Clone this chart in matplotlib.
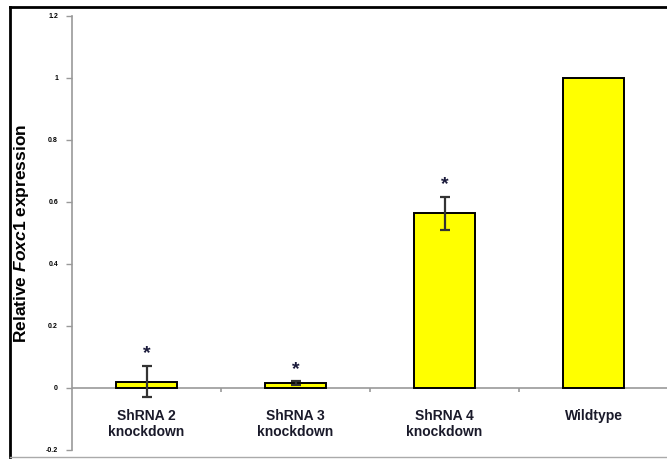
import numpy as np
import matplotlib.pyplot as plt
from matplotlib.lines import Line2D

plt.rcParams['font.family'] = ['Liberation Sans', 'DejaVu Sans']
plt.rcParams['mathtext.fontset'] = 'custom'
plt.rcParams['mathtext.it'] = 'Liberation Sans:italic:bold'
plt.rcParams['mathtext.rm'] = 'Liberation Sans:bold'

categories = ['ShRNA 2\nknockdown', 'ShRNA 3\nknockdown', 'ShRNA 4\nknockdown', 'Wildtype']
expression = [0.02, 0.015, 0.563, 1.0]
errors = [0.05, 0.006, 0.054, 0.0]
significant = [True, True, True, False]
yticks = [-0.2, 0, 0.2, 0.4, 0.6, 0.8, 1, 1.2]
yticklabels = ['-0.2', '0', '0.2', '0.4', '0.6', '0.8', '1', '1.2']

W, H = 667, 459
fig = plt.figure(figsize=(W / 100, H / 100), dpi=100)

# outer frame: black on top and left, light grey along the bottom
fig.add_artist(Line2D([10 / W, 1.0], [1 - 7 / H, 1 - 7 / H], color='black', linewidth=2))
fig.add_artist(Line2D([10 / W, 10 / W], [1 - 7 / H, 1 - 457 / H], color='black', linewidth=2))
fig.add_artist(Line2D([10 / W, 1.0], [1 - 457 / H, 1 - 457 / H], color='#aaaaaa', linewidth=1))

ax = fig.add_axes([72 / W, 9 / H, 596 / W, 434 / H])
ax.patch.set_alpha(0)

x = np.arange(len(categories))
ax.bar(x, expression, width=0.41, color='#ffff00', edgecolor='black', linewidth=1.4, zorder=2)
err_x = [xi for xi, e in zip(x, errors) if e > 0]
err_y = [v for v, e in zip(expression, errors) if e > 0]
err_e = [e for e in errors if e > 0]
ax.errorbar(err_x, err_y, yerr=err_e, fmt='none', ecolor='#333333', elinewidth=1.6,
            capsize=3.5, capthick=1.6, zorder=3)

for xi, v, e, s in zip(x, expression, errors, significant):
    if s:
        ax.text(xi, v + e + 0.04, '*', ha='center', va='center', fontsize=14,
                fontweight='bold', color='#1a1a3a')

ax.set_xlim(-0.5, len(categories) - 0.5)
ax.set_ylim(-0.2, 1.2)

# category axis drawn at zero with small separators
ax.axhline(0, color='#999999', linewidth=1.2, zorder=1)
ax.vlines(x[:-1] + 0.5, -0.012, 0, color='#999999', linewidth=1.2)

for side in ['top', 'right', 'bottom']:
    ax.spines[side].set_visible(False)
ax.spines['left'].set_color('#999999')
ax.spines['left'].set_linewidth(1.2)

ax.set_yticks(yticks)
ax.set_yticklabels(yticklabels, fontsize=5, fontweight='bold')
ax.tick_params(axis='y', length=4, width=1, color='#999999', pad=6)
ax.set_xticks([])

for xi, lab in zip(x, categories):
    ax.text(xi, -0.068, lab, ha='center', va='top', fontsize=10, fontweight='bold',
            color='#1a1a2a', linespacing=1.15)

ax.set_ylabel('Relative $\\mathit{Foxc1}$ expression', fontsize=12.5, fontweight='bold')
ax.yaxis.set_label_coords(-0.068, 0.5)

fig.savefig('out.png', dpi=100)
